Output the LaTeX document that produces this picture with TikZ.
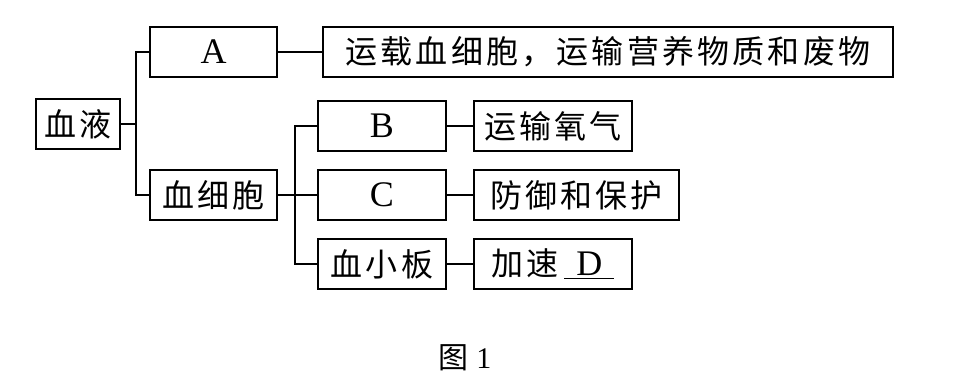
\documentclass[tikz,border=0pt]{standalone}
\usepackage{fontspec}
\setmainfont{Liberation Serif}
\newfontfamily\cjk[LetterSpace=10]{Noto Sans CJK SC}
\usepackage{tikz}

\tikzset{
	box/.style={draw, line width=1.1pt, inner sep=0pt, minimum height=25pt, font=\cjk\fontsize{16}{18}\selectfont},
	letterbox/.style={box, font=\fontsize{18}{20}\selectfont},
	link/.style={line width=1.1pt},
}

\begin{document}
\begin{tikzpicture}[x=0.5pt, y=-0.5pt]
	\useasboundingbox (0,0) rectangle (954,387);
	% first level
	\node[box, minimum width=42pt] (xueye) at (78,124) {血液};
	\node[letterbox, minimum width=63.5pt] (A) at (213.5,52) {A};
	\node[box, minimum width=63.5pt] (xibao) at (213.5,195) {血细胞};
	\node[box, minimum width=285pt] (Adesc) at (608,52) {运载血细胞，运输营养物质和废物};
	% blood cells
	\node[letterbox, minimum width=64pt] (B) at (382,126) {B};
	\node[letterbox, minimum width=64pt] (C) at (382,195) {C};
	\node[box, minimum width=64pt] (xiaoban) at (382,264) {血小板};
	\node[box, minimum width=79pt] (Bdesc) at (553,126) {运输氧气};
	\node[box, minimum width=102.5pt] (Cdesc) at (576.5,195) {防御和保护};
	\node[box, minimum width=79pt] (Ddesc) at (553,264) {加速\,{\rmfamily\fontsize{18}{20}\selectfont\underline{\,\,D\,\,}}};
	% junctions
	\coordinate (t1) at (136,124);
	\coordinate (t2) at (295,195);
	\draw[link] (xueye) -- (t1);
	\draw[link] (A.west) -| (t1) |- (xibao.west);
	\draw[link] (xibao) -- (t2);
	\draw[link] (B.west) -| (t2) |- (xiaoban.west);
	\draw[link] (C) -- (t2);
	\draw[link] (A) -- (Adesc);
	\draw[link] (B) -- (Bdesc);
	\draw[link] (C) -- (Cdesc);
	\draw[link] (xiaoban) -- (Ddesc);
	% caption
	\node[font=\fontsize{15}{17}\selectfont] (caption) at (465,358) {{\cjk 图}\ 1};
\end{tikzpicture}
\end{document}
